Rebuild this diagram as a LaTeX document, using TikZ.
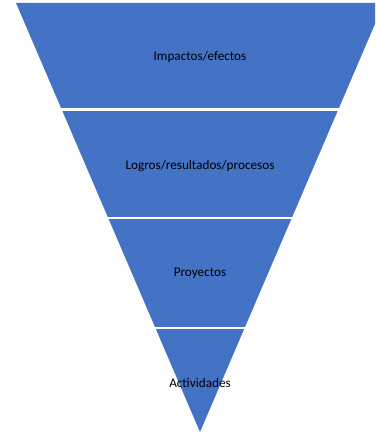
\documentclass[tikz,border=0pt]{standalone}
\usepackage{fontspec}
\setmainfont{Carlito}
\definecolor{bandblue}{HTML}{4472C4}
\tikzset{label text/.style={font=\fontsize{13.2}{15}\selectfont, text=black, inner sep=0pt}}

\begin{document}
\begin{tikzpicture}[x=1pt, y=1pt]
	\useasboundingbox (0, 0) rectangle (375, 433);
	\clip (0, 0) rectangle (375, 433);

	\fill[bandblue] (16, 430) -- (384, 430) -- (200, 1) -- cycle;

	\draw[white, line width=2.5pt] (0, 323.3) -- (375, 323.3);
	\draw[white, line width=2.5pt] (0, 215) -- (375, 215);
	\draw[white, line width=2.5pt] (0, 105) -- (375, 105);

	\node[label text] (impactos) at (200, 376) {Impactos/efectos};
	\node[label text] (logros) at (200, 267) {Logros/resultados/procesos};
	\node[label text] (proyectos) at (200, 160) {Proyectos};
	\node[label text] (actividades) at (200, 50) {Actividades};

\end{tikzpicture}
\end{document}
